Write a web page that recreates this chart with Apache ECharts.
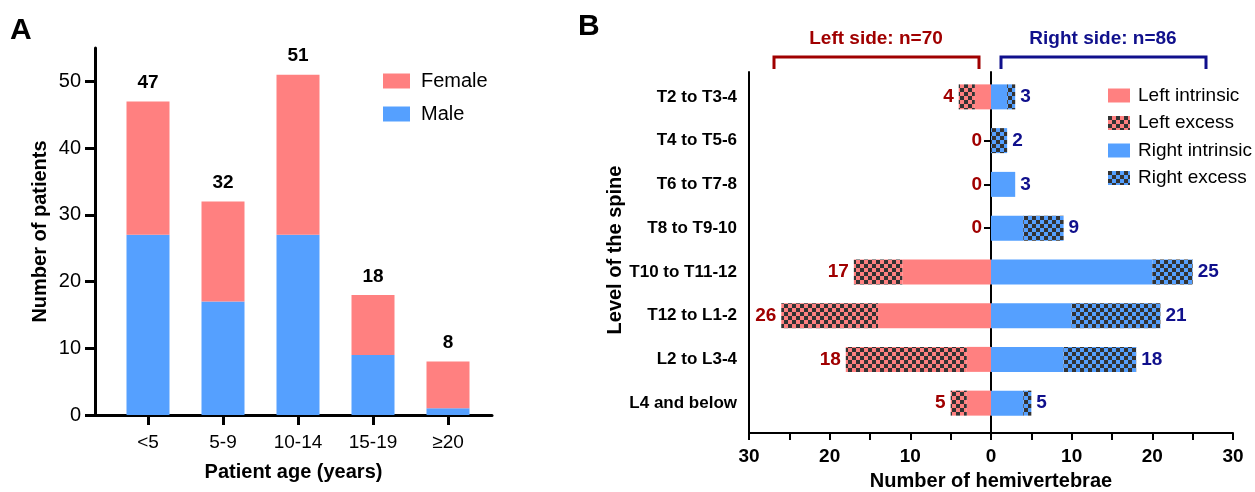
<!DOCTYPE html>
<html>
<head>
<meta charset="utf-8">
<script src="https://cdn.jsdelivr.net/npm/echarts@6.0.0/dist/echarts.min.js"></script>
<style>
  html, body { margin: 0; padding: 0; background: #fff; }
  #chart { width: 1255px; height: 492px; }
</style>
</head>
<body>
<div id="chart"></div>
<script>
// Panel A: patients by age group
const ageGroups = ["<5", "5-9", "10-14", "15-19", "≥20"];
const maleCounts = [27, 17, 27, 9, 1];
const femaleCounts = [20, 15, 24, 9, 7];
const patientTicks = [0, 10, 20, 30, 40, 50];

// Panel B: hemivertebrae by spine level
const spineLevels = ["T2 to T3-4", "T4 to T5-6", "T6 to T7-8", "T8 to T9-10", "T10 to T11-12", "T12 to L1-2", "L2 to L3-4", "L4 and below"];
const leftIntrinsic = [2, 0, 0, 0, 11, 14, 3, 3];
const leftExcess = [2, 0, 0, 0, 6, 12, 15, 2];
const rightIntrinsic = [2, 0, 3, 4, 20, 10, 9, 4];
const rightExcess = [1, 2, 0, 5, 5, 11, 9, 1];

const COLORS = {
  female: "#FF8080",
  male: "#55A0FF",
  checker: "#333333",
  leftText: "#A00000",
  rightText: "#10108C",
  axis: "#000000",
};
const FONT = "'Liberation Sans', Arial, sans-serif";

function checker(bg) {
  const c = document.createElement("canvas");
  c.width = 8;
  c.height = 8;
  const ctx = c.getContext("2d");
  ctx.fillStyle = bg;
  ctx.fillRect(0, 0, 8, 8);
  ctx.fillStyle = COLORS.checker;
  ctx.fillRect(0, 0, 4, 4);
  ctx.fillRect(4, 4, 4, 4);
  return { image: c, repeat: "repeat" };
}

const ageTotals = maleCounts.map((v, i) => v + femaleCounts[i]);
const leftTotals = leftIntrinsic.map((v, i) => v + leftExcess[i]);
const rightTotals = rightIntrinsic.map((v, i) => v + rightExcess[i]);
const sum = (arr) => arr.reduce((a, b) => a + b, 0);

const lineA = { color: COLORS.axis, width: 3 };
const lineB = { color: COLORS.axis, width: 2 };
const nameStyle = { fontFamily: FONT, fontSize: 20, fontWeight: "bold", color: "#000" };
const noAxisParts = { axisTick: { show: false }, axisLabel: { show: false }, splitLine: { show: false } };

// empty left-side rows keep their "0" a little further from the centre line
const leftExcessData = leftExcess.map((v, i) => (leftTotals[i] === 0 ? { value: v, label: { distance: 9 } } : v));

const chart = echarts.init(document.getElementById("chart"));
chart.setOption({
  animation: false,
  textStyle: { fontFamily: FONT },
  grid: [
    { left: 95, top: 48, width: 397, height: 367, outerBoundsMode: "none" },     // A frame
    { left: 110.5, top: 48, width: 375, height: 367, outerBoundsMode: "none" },  // A bars
    { left: 749, top: 72, width: 484, height: 361, outerBoundsMode: "none" },    // B frame
    { left: 991, top: 72, width: 242, height: 361, outerBoundsMode: "none" },    // B centre line
    { left: 749, top: 75, width: 242, height: 350, outerBoundsMode: "none" },    // B left bars
    { left: 991, top: 75, width: 242, height: 350, outerBoundsMode: "none" },    // B right bars
  ],
  xAxis: [
    {
      gridIndex: 0, type: "value", min: 0, max: 1,
      axisLine: { show: true, onZero: false, lineStyle: lineA },
      ...noAxisParts,
      name: "Patient age (years)", nameLocation: "middle", nameGap: 47, nameTextStyle: nameStyle,
    },
    {
      gridIndex: 1, type: "category", data: ageGroups,
      axisLine: { show: false },
      axisTick: { show: true, alignWithLabel: true, length: 10, lineStyle: lineA },
      axisLabel: { margin: 18, fontSize: 19, color: "#000" },
    },
    {
      gridIndex: 2, type: "value", min: -30, max: 30, interval: 5,
      axisLine: { show: true, onZero: false, lineStyle: lineB },
      axisTick: { show: true, length: 7, lineStyle: lineB },
      axisLabel: {
        margin: 14, fontSize: 19, fontWeight: "bold", color: "#000",
        formatter: (v) => (v % 10 === 0 ? String(Math.abs(v)) : ""),
      },
      splitLine: { show: false },
      name: "Number of hemivertebrae", nameLocation: "middle", nameGap: 38, nameTextStyle: nameStyle,
    },
    { gridIndex: 3, type: "value", min: 0, max: 30, show: false },
    { gridIndex: 4, type: "value", min: 0, max: 30, inverse: true, show: false },
    { gridIndex: 5, type: "value", min: 0, max: 30, show: false },
  ],
  yAxis: [
    {
      gridIndex: 0, type: "value", min: 0, max: 55,
      axisLine: { show: true, onZero: false, lineStyle: lineA },
      axisTick: { show: true, customValues: patientTicks, length: 10, lineStyle: lineA },
      axisLabel: { customValues: patientTicks, margin: 14, fontSize: 20, color: "#000" },
      splitLine: { show: false },
      name: "Number of patients", nameLocation: "middle", nameGap: 45, nameTextStyle: nameStyle,
    },
    { gridIndex: 1, type: "value", min: 0, max: 55, show: false },
    {
      gridIndex: 2, type: "value", min: 0, max: 1,
      axisLine: { show: true, onZero: false, lineStyle: lineB },
      ...noAxisParts,
    },
    {
      gridIndex: 3, type: "value", min: 0, max: 1,
      axisLine: { show: true, onZero: false, lineStyle: lineB },
      ...noAxisParts,
    },
    {
      gridIndex: 4, type: "category", data: spineLevels, inverse: true,
      axisLine: { show: false },
      axisTick: {
        show: true, alignWithLabel: true, length: 7, lineStyle: lineB,
        interval: (i) => i < spineLevels.length - 1,
      },
      axisLabel: { margin: 12, fontSize: 17, fontWeight: "bold", color: "#000" },
      name: "Level of the spine", nameLocation: "middle", nameRotate: 90, nameGap: 124,
      nameTextStyle: nameStyle,
    },
    { gridIndex: 5, type: "category", data: spineLevels, inverse: true, show: false },
  ],
  legend: [
    {
      data: ["Female", "Male"], orient: "vertical", left: 378, top: 66,
      icon: "rect", itemWidth: 27, itemHeight: 15, itemGap: 13,
      textStyle: { fontFamily: FONT, fontSize: 20, color: "#000", padding: [0, 0, 0, 6] },
    },
    {
      data: ["Left intrinsic", "Left excess", "Right intrinsic", "Right excess"],
      orient: "vertical", left: 1103, top: 81,
      icon: "rect", itemWidth: 22, itemHeight: 14, itemGap: 8.5,
      textStyle: { fontFamily: FONT, fontSize: 19, color: "#000", padding: [0, 0, 0, 3] },
    },
  ],
  series: [
    {
      name: "Male", type: "bar", xAxisIndex: 1, yAxisIndex: 1, stack: "sex", barWidth: 43,
      itemStyle: { color: COLORS.male },
      data: maleCounts,
    },
    {
      name: "Female", type: "bar", xAxisIndex: 1, yAxisIndex: 1, stack: "sex", barWidth: 43,
      itemStyle: { color: COLORS.female },
      label: {
        show: true, position: "top", distance: 9, fontSize: 19, fontWeight: "bold", color: "#000",
        formatter: (p) => String(ageTotals[p.dataIndex]),
      },
      data: femaleCounts,
    },
    {
      name: "Left intrinsic", type: "bar", xAxisIndex: 4, yAxisIndex: 4, stack: "left", barWidth: 25,
      itemStyle: { color: COLORS.female },
      data: leftIntrinsic,
    },
    {
      name: "Left excess", type: "bar", xAxisIndex: 4, yAxisIndex: 4, stack: "left", barWidth: 25,
      itemStyle: { color: checker(COLORS.female) },
      label: {
        show: true, position: "left", distance: 5, fontSize: 19, fontWeight: "bold", color: COLORS.leftText,
        formatter: (p) => String(leftTotals[p.dataIndex]),
      },
      data: leftExcessData,
    },
    {
      name: "Right intrinsic", type: "bar", xAxisIndex: 5, yAxisIndex: 5, stack: "right", barWidth: 25,
      itemStyle: { color: COLORS.male },
      data: rightIntrinsic,
    },
    {
      name: "Right excess", type: "bar", xAxisIndex: 5, yAxisIndex: 5, stack: "right", barWidth: 25,
      itemStyle: { color: checker(COLORS.male) },
      label: {
        show: true, position: "right", distance: 5, fontSize: 19, fontWeight: "bold", color: COLORS.rightText,
        formatter: (p) => String(rightTotals[p.dataIndex]),
      },
      data: rightExcess,
    },
  ],
  graphic: [
    { type: "text", x: 10, y: 16, style: { text: "A", font: "bold 30px " + FONT, fill: "#000" } },
    { type: "text", x: 578, y: 12, style: { text: "B", font: "bold 30px " + FONT, fill: "#000" } },
    {
      type: "polyline", shape: { points: [[774, 69], [774, 57], [979, 57], [979, 69]] },
      style: { stroke: COLORS.leftText, lineWidth: 3, fill: "none" },
    },
    {
      type: "polyline", shape: { points: [[1001, 69], [1001, 57], [1206, 57], [1206, 69]] },
      style: { stroke: COLORS.rightText, lineWidth: 3, fill: "none" },
    },
    {
      type: "text", x: 876, y: 39,
      style: { text: "Left side: n=" + sum(leftTotals), font: "bold 19px " + FONT, fill: COLORS.leftText, align: "center", verticalAlign: "middle" },
    },
    {
      type: "text", x: 1103, y: 39,
      style: { text: "Right side: n=" + sum(rightTotals), font: "bold 19px " + FONT, fill: COLORS.rightText, align: "center", verticalAlign: "middle" },
    },
  ],
});
</script>
</body>
</html>
